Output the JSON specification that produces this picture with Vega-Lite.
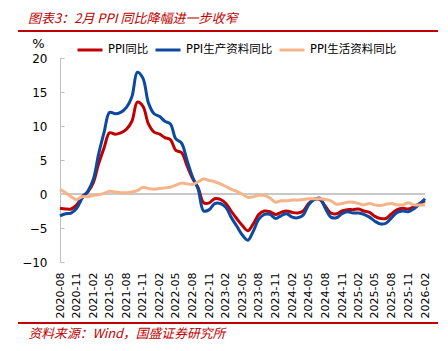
{
  "$schema": "https://vega.github.io/schema/vega-lite/v6.json",
  "width": 365,
  "height": 204,
  "autosize": {"type": "none"},
  "padding": {"left": 60, "top": 58, "right": 23, "bottom": 89},
  "background": "white",
  "config": {"view": {"stroke": null}},
  "title": {
    "text": "图表3：2月 PPI 同比降幅进一步收窄",
    "anchor": "start",
    "frame": "group",
    "dx": -32,
    "offset": 4,
    "font": "Noto Sans CJK SC",
    "fontStyle": "italic",
    "fontWeight": "normal",
    "fontSize": 13,
    "color": "#C00000"
  },
  "resolve": {"axis": {"x": "independent", "y": "independent"}},
  "data": {
    "values": [
      {"date": "2020-08-01", "PPI同比": -2.1, "PPI生产资料同比": -3.2, "PPI生活资料同比": 0.7},
      {"date": "2020-09-01", "PPI同比": -2.2, "PPI生产资料同比": -2.9, "PPI生活资料同比": 0.2},
      {"date": "2020-10-01", "PPI同比": -2.2, "PPI生产资料同比": -2.8, "PPI生活资料同比": -0.4},
      {"date": "2020-11-01", "PPI同比": -1.6, "PPI生产资料同比": -2.1, "PPI生活资料同比": -0.8},
      {"date": "2020-12-01", "PPI同比": -0.4, "PPI生产资料同比": -0.6, "PPI生活资料同比": -0.4},
      {"date": "2021-01-01", "PPI同比": 0.3, "PPI生产资料同比": 0.4, "PPI生活资料同比": -0.4},
      {"date": "2021-02-01", "PPI同比": 1.7, "PPI生产资料同比": 2.2, "PPI生活资料同比": -0.2},
      {"date": "2021-03-01", "PPI同比": 4.4, "PPI生产资料同比": 5.8, "PPI生活资料同比": -0.1},
      {"date": "2021-04-01", "PPI同比": 6.8, "PPI生产资料同比": 9.1, "PPI生活资料同比": 0.1},
      {"date": "2021-05-01", "PPI同比": 9.0, "PPI生产资料同比": 12.0, "PPI生活资料同比": 0.4},
      {"date": "2021-06-01", "PPI同比": 8.8, "PPI生产资料同比": 11.8, "PPI生活资料同比": 0.3},
      {"date": "2021-07-01", "PPI同比": 9.0, "PPI生产资料同比": 12.0, "PPI生活资料同比": 0.2},
      {"date": "2021-08-01", "PPI同比": 9.5, "PPI生产资料同比": 12.7, "PPI生活资料同比": 0.2},
      {"date": "2021-09-01", "PPI同比": 10.7, "PPI生产资料同比": 14.3, "PPI生活资料同比": 0.3},
      {"date": "2021-10-01", "PPI同比": 13.5, "PPI生产资料同比": 17.9, "PPI生活资料同比": 0.5},
      {"date": "2021-11-01", "PPI同比": 12.9, "PPI生产资料同比": 17.0, "PPI生活资料同比": 1.0},
      {"date": "2021-12-01", "PPI同比": 10.3, "PPI生产资料同比": 13.4, "PPI生活资料同比": 0.8},
      {"date": "2022-01-01", "PPI同比": 9.1, "PPI生产资料同比": 11.8, "PPI生活资料同比": 0.7},
      {"date": "2022-02-01", "PPI同比": 8.8, "PPI生产资料同比": 11.4, "PPI生活资料同比": 0.8},
      {"date": "2022-03-01", "PPI同比": 8.3, "PPI生产资料同比": 10.7, "PPI生活资料同比": 0.9},
      {"date": "2022-04-01", "PPI同比": 8.0, "PPI生产资料同比": 10.3, "PPI生活资料同比": 1.0},
      {"date": "2022-05-01", "PPI同比": 6.4, "PPI生产资料同比": 8.1, "PPI生活资料同比": 1.3},
      {"date": "2022-06-01", "PPI同比": 6.1, "PPI生产资料同比": 7.5, "PPI生活资料同比": 1.6},
      {"date": "2022-07-01", "PPI同比": 4.2, "PPI生产资料同比": 5.0, "PPI生活资料同比": 1.5},
      {"date": "2022-08-01", "PPI同比": 2.3, "PPI生产资料同比": 2.5, "PPI生活资料同比": 1.4},
      {"date": "2022-09-01", "PPI同比": 0.9, "PPI生产资料同比": 0.7, "PPI生活资料同比": 1.8},
      {"date": "2022-10-01", "PPI同比": -1.3, "PPI生产资料同比": -2.5, "PPI生活资料同比": 2.2},
      {"date": "2022-11-01", "PPI同比": -1.3, "PPI生产资料同比": -2.3, "PPI生活资料同比": 2.0},
      {"date": "2022-12-01", "PPI同比": -0.7, "PPI生产资料同比": -1.4, "PPI生活资料同比": 1.8},
      {"date": "2023-01-01", "PPI同比": -0.8, "PPI生产资料同比": -1.4, "PPI生活资料同比": 1.5},
      {"date": "2023-02-01", "PPI同比": -1.4, "PPI生产资料同比": -2.0, "PPI生活资料同比": 1.1},
      {"date": "2023-03-01", "PPI同比": -2.5, "PPI生产资料同比": -3.4, "PPI生活资料同比": 0.7},
      {"date": "2023-04-01", "PPI同比": -3.6, "PPI生产资料同比": -4.7, "PPI生活资料同比": 0.4},
      {"date": "2023-05-01", "PPI同比": -4.6, "PPI生产资料同比": -6.0, "PPI生活资料同比": 0.0},
      {"date": "2023-06-01", "PPI同比": -5.4, "PPI生产资料同比": -6.8, "PPI生活资料同比": -0.5},
      {"date": "2023-07-01", "PPI同比": -4.4, "PPI生产资料同比": -5.5, "PPI生活资料同比": -0.4},
      {"date": "2023-08-01", "PPI同比": -3.0, "PPI生产资料同比": -3.7, "PPI生活资料同比": -0.2},
      {"date": "2023-09-01", "PPI同比": -2.5, "PPI生产资料同比": -3.0, "PPI生活资料同比": -0.2},
      {"date": "2023-10-01", "PPI同比": -2.6, "PPI生产资料同比": -3.0, "PPI生活资料同比": -0.6},
      {"date": "2023-11-01", "PPI同比": -3.0, "PPI生产资料同比": -3.6, "PPI生活资料同比": -1.2},
      {"date": "2023-12-01", "PPI同比": -2.7, "PPI生产资料同比": -3.2, "PPI生活资料同比": -1.0},
      {"date": "2024-01-01", "PPI同比": -2.5, "PPI生产资料同比": -2.9, "PPI生活资料同比": -1.0},
      {"date": "2024-02-01", "PPI同比": -2.7, "PPI生产资料同比": -3.4, "PPI生活资料同比": -0.9},
      {"date": "2024-03-01", "PPI同比": -2.8, "PPI生产资料同比": -3.5, "PPI生活资料同比": -0.9},
      {"date": "2024-04-01", "PPI同比": -2.5, "PPI生产资料同比": -3.1, "PPI生活资料同比": -0.8},
      {"date": "2024-05-01", "PPI同比": -1.4, "PPI生产资料同比": -1.6, "PPI生活资料同比": -0.7},
      {"date": "2024-06-01", "PPI同比": -0.8, "PPI生产资料同比": -0.8, "PPI生活资料同比": -0.7},
      {"date": "2024-07-01", "PPI同比": -0.8, "PPI生产资料同比": -0.6, "PPI生活资料同比": -0.7},
      {"date": "2024-08-01", "PPI同比": -1.8, "PPI生产资料同比": -2.1, "PPI生活资料同比": -0.8},
      {"date": "2024-09-01", "PPI同比": -2.8, "PPI生产资料同比": -3.4, "PPI生活资料同比": -1.0},
      {"date": "2024-10-01", "PPI同比": -2.9, "PPI生产资料同比": -3.5, "PPI生活资料同比": -1.5},
      {"date": "2024-11-01", "PPI同比": -2.5, "PPI生产资料同比": -2.9, "PPI生活资料同比": -1.4},
      {"date": "2024-12-01", "PPI同比": -2.3, "PPI生产资料同比": -2.6, "PPI生活资料同比": -1.2},
      {"date": "2025-01-01", "PPI同比": -2.3, "PPI生产资料同比": -2.8, "PPI生活资料同比": -1.2},
      {"date": "2025-02-01", "PPI同比": -2.2, "PPI生产资料同比": -2.8, "PPI生活资料同比": -1.4},
      {"date": "2025-03-01", "PPI同比": -2.5, "PPI生产资料同比": -3.0, "PPI生活资料同比": -1.6},
      {"date": "2025-04-01", "PPI同比": -2.7, "PPI生产资料同比": -3.4, "PPI生活资料同比": -1.4},
      {"date": "2025-05-01", "PPI同比": -3.3, "PPI生产资料同比": -4.0, "PPI生活资料同比": -1.6},
      {"date": "2025-06-01", "PPI同比": -3.6, "PPI生产资料同比": -4.4, "PPI生活资料同比": -1.7},
      {"date": "2025-07-01", "PPI同比": -3.6, "PPI生产资料同比": -4.3, "PPI生活资料同比": -1.5},
      {"date": "2025-08-01", "PPI同比": -2.9, "PPI生产资料同比": -3.5, "PPI生活资料同比": -1.4},
      {"date": "2025-09-01", "PPI同比": -2.3, "PPI生产资料同比": -2.7, "PPI生活资料同比": -1.6},
      {"date": "2025-10-01", "PPI同比": -2.1, "PPI生产资料同比": -2.5, "PPI生活资料同比": -1.6},
      {"date": "2025-11-01", "PPI同比": -2.2, "PPI生产资料同比": -2.6, "PPI生活资料同比": -1.3},
      {"date": "2025-12-01", "PPI同比": -1.9, "PPI生产资料同比": -2.2, "PPI生活资料同比": -1.6},
      {"date": "2026-01-01", "PPI同比": -1.4, "PPI生产资料同比": -1.5, "PPI生活资料同比": -1.6},
      {"date": "2026-02-01", "PPI同比": -1.0, "PPI生产资料同比": -0.7, "PPI生活资料同比": -1.6}
    ]
  },
  "layer": [
    {
      "mark": {"type": "rule", "color": "#C8C8C8", "strokeWidth": 1},
      "encoding": {
        "y": {"datum": 0, "type": "quantitative", "axis": null}
      }
    },
    {
      "transform": [{"fold": ["PPI同比", "PPI生产资料同比", "PPI生活资料同比"], "as": ["series", "value"]}],
      "mark": {"type": "line", "strokeWidth": 3, "interpolate": "catmull-rom"},
      "encoding": {
        "x": {
          "field": "date",
          "type": "temporal",
          "title": "资料来源：Wind，国盛证券研究所",
          "scale": {
            "type": "utc",
            "nice": false,
            "domain": [
              {"year": 2020, "month": 8, "date": 1, "utc": true},
              {"year": 2026, "month": 2, "date": 1, "utc": true}
            ]
          },
          "axis": {
            "values": [
              {"year": 2020, "month": 8, "date": 1, "utc": true},
              {"year": 2020, "month": 11, "date": 1, "utc": true},
              {"year": 2021, "month": 2, "date": 1, "utc": true},
              {"year": 2021, "month": 5, "date": 1, "utc": true},
              {"year": 2021, "month": 8, "date": 1, "utc": true},
              {"year": 2021, "month": 11, "date": 1, "utc": true},
              {"year": 2022, "month": 2, "date": 1, "utc": true},
              {"year": 2022, "month": 5, "date": 1, "utc": true},
              {"year": 2022, "month": 8, "date": 1, "utc": true},
              {"year": 2022, "month": 11, "date": 1, "utc": true},
              {"year": 2023, "month": 2, "date": 1, "utc": true},
              {"year": 2023, "month": 5, "date": 1, "utc": true},
              {"year": 2023, "month": 8, "date": 1, "utc": true},
              {"year": 2023, "month": 11, "date": 1, "utc": true},
              {"year": 2024, "month": 2, "date": 1, "utc": true},
              {"year": 2024, "month": 5, "date": 1, "utc": true},
              {"year": 2024, "month": 8, "date": 1, "utc": true},
              {"year": 2024, "month": 11, "date": 1, "utc": true},
              {"year": 2025, "month": 2, "date": 1, "utc": true},
              {"year": 2025, "month": 5, "date": 1, "utc": true},
              {"year": 2025, "month": 8, "date": 1, "utc": true},
              {"year": 2025, "month": 11, "date": 1, "utc": true},
              {"year": 2026, "month": 2, "date": 1, "utc": true}
            ],
            "labelExpr": "utcFormat(datum.value, '%Y-%m')",
            "labelAngle": -90,
            "labelAlign": "right",
            "labelBaseline": "middle",
            "labelPadding": 10,
            "labelOverlap": false,
            "labelFlush": false,
            "labelBound": false,
            "ticks": false,
            "domain": false,
            "grid": false,
            "labelFont": "DejaVu Sans",
            "labelFontSize": 11,
            "labelColor": "#000000",
            "titleX": -32,
            "titleY": 71,
            "titleAlign": "left",
            "titleBaseline": "middle",
            "titleFont": "Noto Sans CJK SC",
            "titleFontStyle": "italic",
            "titleFontWeight": "normal",
            "titleFontSize": 12.8,
            "titleColor": "#C00000"
          }
        },
        "y": {
          "field": "value",
          "type": "quantitative",
          "title": "%",
          "scale": {"domain": [-10, 20], "nice": false, "zero": false},
          "axis": {
            "values": [-10, -5, 0, 5, 10, 15, 20],
            "grid": false,
            "domainColor": "#BFBFBF",
            "tickColor": "#BFBFBF",
            "tickSize": -4,
            "labelPadding": 17,
            "labelFont": "DejaVu Sans",
            "labelFontSize": 12,
            "labelColor": "#000000",
            "titleAngle": 0,
            "titleX": -22,
            "titleY": -15,
            "titleAlign": "center",
            "titleBaseline": "middle",
            "titleFont": "DejaVu Sans",
            "titleFontSize": 13,
            "titleFontWeight": "normal",
            "titleColor": "#000000"
          }
        },
        "color": {
          "field": "series",
          "type": "nominal",
          "scale": {
            "domain": ["PPI同比", "PPI生产资料同比", "PPI生活资料同比"],
            "range": ["#C00000", "#0B4A9E", "#F6B48A"]
          },
          "legend": {
            "orient": "none",
            "legendX": 16,
            "legendY": -22,
            "direction": "horizontal",
            "title": null,
            "symbolType": "stroke",
            "symbolSize": 625,
            "symbolStrokeWidth": 3,
            "labelFont": "DejaVu Sans, Noto Sans CJK SC",
            "labelFontSize": 11.5,
            "labelColor": "#000000",
            "labelOffset": 4,
            "columnPadding": 0,
            "padding": 0
          }
        }
      }
    },
    {
      "mark": {"type": "rule", "color": "#C00000", "strokeWidth": 1.5},
      "encoding": {
        "x": {"datum": {"year": 2019, "month": 12, "date": 14, "utc": true}, "type": "temporal", "axis": null},
        "x2": {"datum": {"year": 2026, "month": 4, "date": 13, "utc": true}},
        "y": {"datum": 24.0, "type": "quantitative", "axis": null}
      }
    },
    {
      "mark": {"type": "rule", "color": "#C00000", "strokeWidth": 1.5},
      "encoding": {
        "x": {"datum": {"year": 2019, "month": 12, "date": 14, "utc": true}, "type": "temporal", "axis": null},
        "x2": {"datum": {"year": 2026, "month": 4, "date": 13, "utc": true}},
        "y": {"datum": -19.0, "type": "quantitative", "axis": null}
      }
    }
  ]
}
